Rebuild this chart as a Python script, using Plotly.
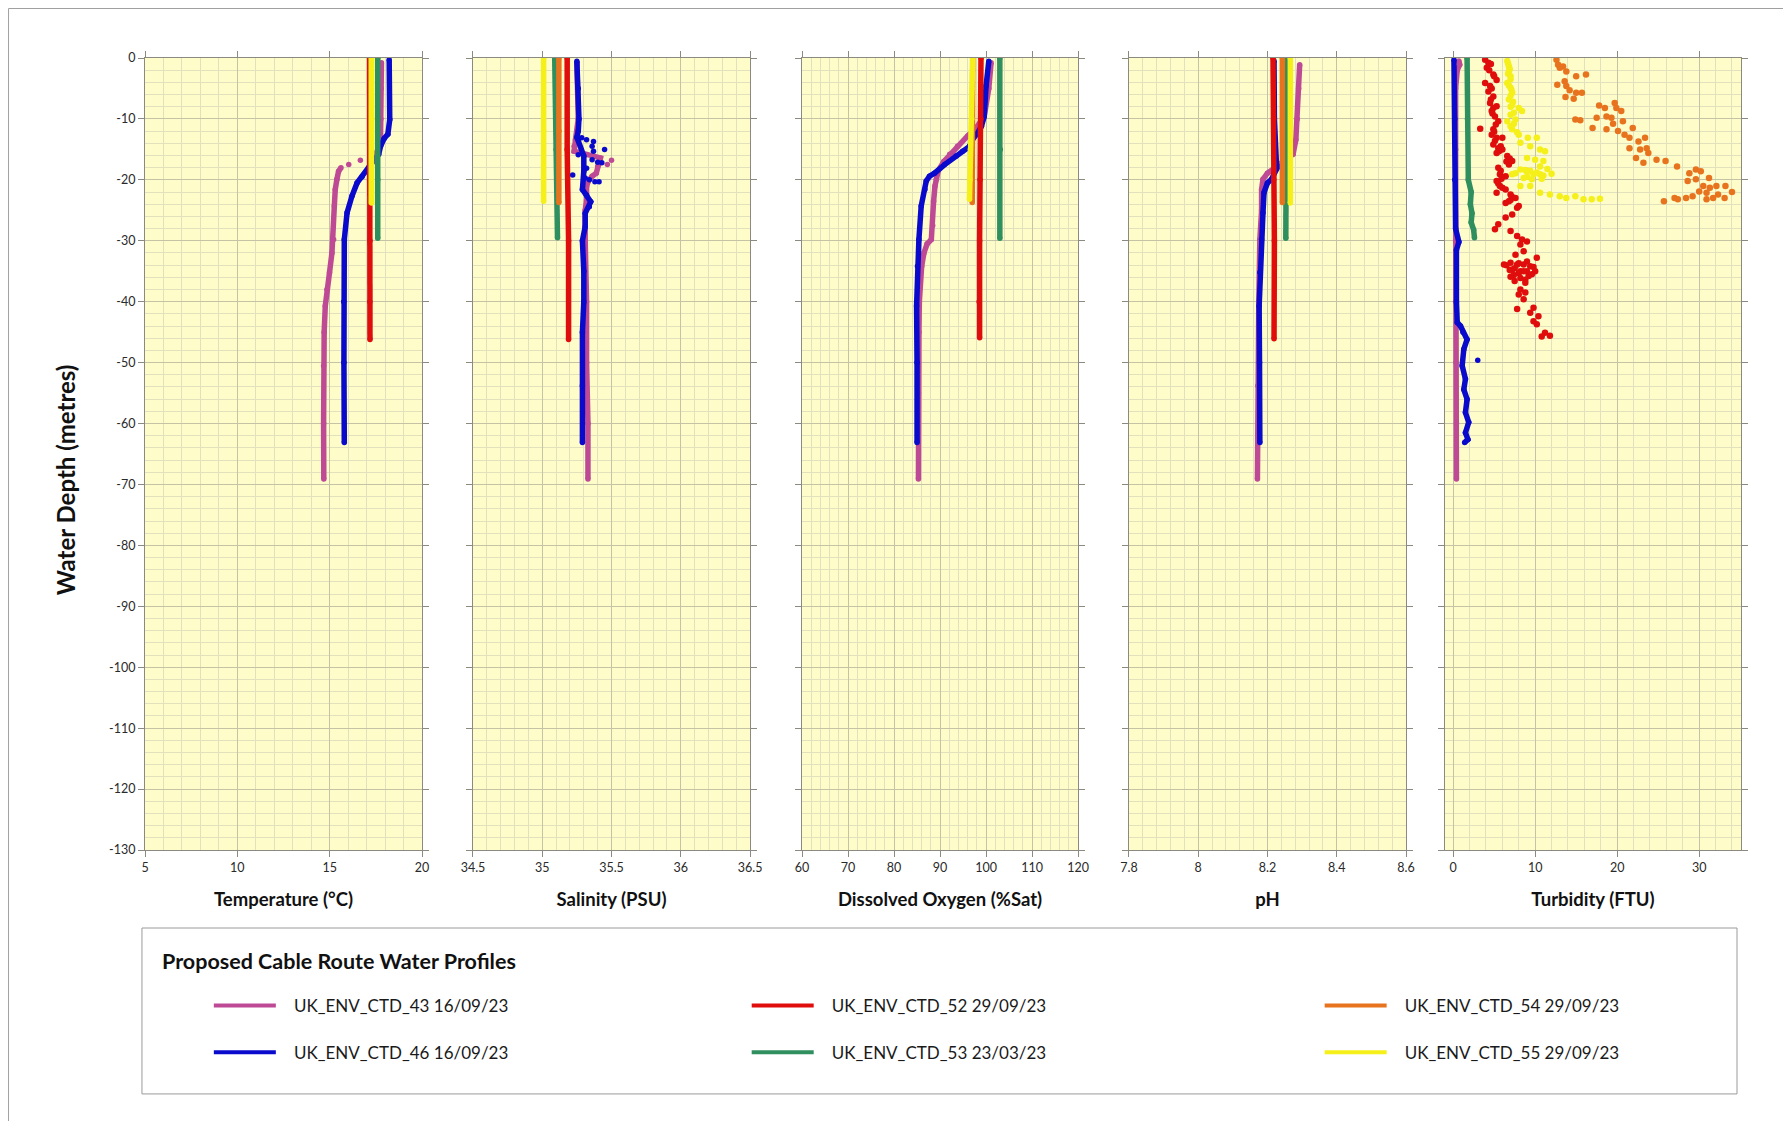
import plotly.graph_objects as go

# ---------------- data ----------------
STATION_LABELS = ["UK_ENV_CTD_43 16/09/23", "UK_ENV_CTD_46 16/09/23",
                  "UK_ENV_CTD_52 29/09/23", "UK_ENV_CTD_53 23/03/23",
                  "UK_ENV_CTD_54 29/09/23", "UK_ENV_CTD_55 29/09/23"]
PANEL_TITLES = ["Temperature (°C)", "Salinity (PSU)", "Dissolved Oxygen (%Sat)", "pH", "Turbidity (FTU)"]
LEGEND_TITLE = "Proposed Cable Route Water Profiles"
Y_TITLE = "Water Depth (metres)"

DEPTH_TICKS = [0, -10, -20, -30, -40, -50, -60, -70, -80, -90, -100, -110, -120, -130]
DEPTH_TICK_LABELS = ["0", "-10", "-20", "-30", "-40", "-50", "-60", "-70", "-80", "-90",
                     "-100", "-110", "-120", "-130"]

# (depth m, value) pairs; None breaks the profile line
TEMP_43 = [(-0.8, 17.80), (-5, 17.79), (-10, 17.77), (-13.4, 17.75), (-15.0, 17.6), (-15.8, 17.5),
           (-16.3, None), (-16.8, 16.66), (-17.2, None), (-17.5, 16.03), (-17.8, None),
           (-18.0, 15.61), (-18.6, 15.48), (-19.9, 15.39), (-21.6, 15.30), (-24.3, 15.25),
           (-29.8, 15.21), (-32.0, 15.12), (-35.2, 14.99), (-38.0, 14.85), (-40.7, 14.76),
           (-45.0, 14.70), (-50.5, 14.67), (-60.0, 14.67), (-69.1, 14.68)]
TEMP_46 = [(-0.3, 18.22), (-10.1, 18.25), (-12.5, 18.15), (-13.2, 17.95), (-14.5, 17.75),
           (-15.8, 17.65), (-16.5, 17.47), (-18.0, 17.10), (-18.6, 17.0), (-19.5, 16.75),
           (-20.5, 16.48), (-22.7, 16.2), (-25.4, 15.94), (-29.8, 15.79), (-40, 15.76),
           (-50, 15.77), (-63.1, 15.79)]
TEMP_52 = [(0, 17.16), (-10, 17.17), (-20, 17.16), (-30, 17.18), (-40, 17.17), (-46.2, 17.18)]
TEMP_53 = [(0, 17.60), (-10, 17.61), (-20, 17.60), (-29.6, 17.60)]
TEMP_54 = [(0, 17.22), (-23.7, 17.22)]
TEMP_55 = [(0, 17.27), (-10, 17.28), (-23.8, 17.27)]

SAL_43 = [(-0.8, 35.25), (-10, 35.26), (-13.4, 35.24), (-14.5, 35.23), (-15.3, 35.23), (-16.4, 35.42),
          (-17.8, 35.40), (-18.9, 35.39), (-19.4, 35.36), (-20.3, 35.33), (-21.1, 35.32),
          (-23.3, 35.32), (-25.0, 35.31), (-30, 35.31), (-40, 35.32), (-50, 35.32), (-60, 35.33),
          (-69.1, 35.33)]
SAL_43_SCATTER = [(-16.8, 35.50), (-17.5, 35.47)]
SAL_46 = [(-0.55, 35.25), (-5, 35.26), (-10, 35.265), (-12.0, 35.26), (-13.0, 35.25), (-16.1, 35.30),
          (-18.6, 35.30), (-21.6, 35.29), (-23.6, 35.35), (-25.5, 35.31), (-27.7, 35.31),
          (-30, 35.29), (-35, 35.30), (-40, 35.30), (-45, 35.29), (-53.8, 35.29), (-63.1, 35.29)]
SAL_46_SCATTER = [(-13.1, 35.285), (-13.4, 35.32), (-13.7, 35.37), (-14.5, 35.36), (-15.3, 35.37),
                  (-15.0, 35.45), (-15.9, 35.26), (-16.7, 35.36), (-17.1, 35.40), (-17.2, 35.43),
                  (-18.1, 35.32), (-19.2, 35.22), (-19.7, 35.31), (-20.0, 35.34), (-20.3, 35.38),
                  (-20.3, 35.41), (-22.5, 35.32), (-24.4, 35.34)]
SAL_52 = [(0, 35.18), (-15, 35.18), (-30, 35.19), (-46.2, 35.19)]
SAL_53 = [(0, 35.09), (-15, 35.10), (-29.5, 35.11)]
SAL_54 = [(0, 35.12), (-12, 35.12), (-23.7, 35.12)]
SAL_55 = [(0, 35.01), (-12, 35.01), (-23.5, 35.01)]

DO_43 = [(-0.8, 101.1), (-5, 100.6), (-9.6, 99.6), (-11.5, 97.8), (-12.8, 96.0), (-14.5, 93.8),
         (-15.8, 92.1), (-17.0, 90.8), (-18.5, 89.6), (-19.9, 89.2), (-21.0, 88.9), (-23.5, 88.6),
         (-27.5, 88.4), (-29.8, 88.1), (-30.5, 87.2), (-32.0, 86.5), (-34.2, 86.0), (-36.4, 85.7),
         (-40.0, 85.5), (-45.0, 85.4), (-55, 85.3), (-69.1, 85.3)]
DO_46 = [(-0.55, 100.6), (-4.6, 100.0), (-9.6, 99.6), (-11.2, 99.0), (-12.3, 98.2), (-13.2, 97.2),
         (-14.5, 96.4), (-15.3, 94.9), (-16.1, 93.5), (-17.5, 91.0), (-18.9, 88.8), (-19.4, 87.7),
         (-20.2, 87.0), (-21.6, 86.7), (-24.3, 85.9), (-29.8, 85.4), (-34.2, 85.1), (-40.7, 84.9),
         (-50, 85.0), (-63.1, 85.0)]
DO_52 = [(0, 98.9), (-10, 98.9), (-20, 98.7), (-30, 98.6), (-40, 98.5), (-45.9, 98.6)]
DO_53 = [(0, 103.0), (-15, 103.1), (-29.6, 103.0)]
DO_54 = [(0, 97.1), (-23.7, 97.0)]
DO_55 = [(0, 97.1), (-5, 96.9), (-10, 96.9), (-15, 96.6), (-20, 96.5), (-23.2, 96.4)]

PH_43 = [(-1.1, 8.293), (-5, 8.290), (-10, 8.286), (-13.4, 8.282), (-15.8, 8.274), (-17.0, 8.245),
         (-17.8, 8.226), (-18.9, 8.200), (-19.9, 8.187), (-21.6, 8.183), (-25, 8.183),
         (-29.8, 8.178), (-40, 8.175), (-53.8, 8.172), (-69.1, 8.171)]
PH_46 = [(-0.5, 8.219), (-10, 8.220), (-17.5, 8.226), (-17.8, 8.231), (-18.9, 8.220), (-19.9, 8.212),
         (-20.5, 8.200), (-22.1, 8.190), (-25.4, 8.187), (-29.8, 8.183), (-35.2, 8.178),
         (-40.7, 8.176), (-50, 8.177), (-63.1, 8.178)]
PH_52 = [(0, 8.216), (-10, 8.218), (-20, 8.218), (-30, 8.220), (-46.1, 8.219)]
PH_53 = [(0, 8.255), (-15, 8.255), (-29.6, 8.253)]
PH_54 = [(0, 8.243), (-23.7, 8.243)]
PH_55 = [(0, 8.266), (-23.8, 8.266)]

TURB_43 = [(-0.5, 0.7), (-1.1, 0.8), (-2, 0.5), (-5, 0.3), (-15, 0.3), (-30, 0.3), (-40, 0.3),
           (-50, 0.35), (-60, 0.4), (-69.1, 0.4)]
TURB_46 = [(-0.3, 0.1), (-10, 0.2), (-20, 0.2), (-28, 0.3), (-30.2, 0.7), (-31.5, 0.4), (-40, 0.4),
           (-43.4, 0.5), (-44.0, 0.9), (-45.0, 1.2), (-46.2, 1.7), (-47.8, 1.3), (-50.5, 1.1),
           (-52.7, 1.5), (-54.4, 1.3), (-56.0, 1.7), (-58.2, 1.5), (-59.8, 1.9), (-61.5, 1.5),
           (-62.6, 1.8), (-63.1, 1.4)]
TURB_46_SCATTER = [(-49.6, 3.0)]
TURB_53 = [(0, 1.7), (-10, 1.75), (-20, 1.85), (-22.0, 2.2), (-24, 2.1), (-25.5, 2.3), (-27, 2.2),
           (-28.2, 2.5), (-29.5, 2.6)]
TURB_52 = [(-0.3, 3.9), (-0.8, 4.3), (-1.0, 4.6), (-1.6, 4.1), (-2.0, 4.4), (-2.7, 4.9), (-3.0, 5.0),
           (-3.6, 5.3), (-4.1, 3.9), (-4.6, 4.5), (-5.0, 4.7), (-5.5, 4.3), (-6.3, 4.9), (-6.8, 4.6),
           (-7.4, 4.5), (-7.9, 5.3), (-8.2, 4.9), (-8.7, 4.7), (-9.1, 4.8), (-9.6, 5.1), (-10.4, 5.5),
           (-10.9, 5.2), (-11.6, 3.3), (-11.7, 4.9), (-12.1, 5.0), (-12.6, 4.7), (-13.1, 5.3),
           (-13.1, 6.0), (-13.6, 5.1), (-14.2, 4.9), (-14.5, 5.8), (-14.8, 5.5), (-15.0, 6.0),
           (-15.3, 5.6), (-15.6, 5.3), (-16.1, 6.6), (-16.5, 6.9), (-16.9, 7.2), (-17.0, 6.5),
           (-17.5, 6.8), (-18.0, 5.5), (-18.5, 5.8), (-19.1, 5.7), (-19.4, 6.4), (-19.8, 5.9),
           (-20.2, 5.3), (-20.6, 5.5), (-21.0, 5.7), (-21.3, 6.0), (-21.6, 6.4), (-22.1, 5.3),
           (-22.4, 7.0), (-22.8, 7.2), (-23.0, 7.6), (-23.3, 7.0), (-23.5, 6.8), (-23.8, 6.4),
           (-24.3, 8.0), (-24.6, 7.8), (-25.7, 7.2), (-26.2, 6.4), (-27.3, 5.5), (-28.1, 5.1),
           (-28.4, 7.0), (-29.2, 7.8), (-29.8, 8.4), (-30.1, 9.0), (-30.6, 8.2), (-31.7, 8.6),
           (-32.3, 7.6), (-32.8, 10.2), (-33.4, 9.0), (-33.6, 7.0), (-33.7, 8.0), (-33.9, 6.2),
           (-33.9, 7.8), (-33.9, 8.6), (-34.0, 6.5), (-34.2, 9.4), (-34.3, 9.8), (-34.5, 7.5),
           (-34.7, 7.2), (-34.8, 6.9), (-35.0, 8.2), (-35.0, 9.0), (-35.0, 10.0), (-35.0, 8.6),
           (-35.3, 8.0), (-35.5, 9.6), (-35.6, 7.4), (-35.8, 9.2), (-35.9, 7.0), (-36.1, 8.2),
           (-36.4, 8.8), (-36.6, 7.5), (-36.9, 8.8), (-38.0, 8.2), (-38.5, 8.8), (-38.8, 8.0),
           (-39.6, 8.6), (-41.0, 9.8), (-41.2, 7.8), (-41.8, 9.4), (-42.4, 10.4), (-43.2, 9.8),
           (-43.7, 10.2), (-45.1, 11.2), (-45.6, 11.8), (-45.7, 10.8)]
TURB_54 = [(-0.3, 12.6), (-1.1, 12.8), (-1.4, 13.4), (-1.6, 13.0), (-2.2, 13.8), (-3.0, 15.0),
           (-2.7, 16.2), (-4.4, 12.7), (-3.8, 13.6), (-4.6, 13.8), (-5.3, 14.2), (-5.7, 15.0),
           (-5.7, 15.7), (-6.7, 14.7), (-6.4, 13.7), (-7.8, 17.8), (-8.2, 18.5), (-7.4, 19.7),
           (-8.2, 19.9), (-8.7, 20.5), (-9.6, 18.7), (-9.8, 19.3), (-9.8, 17.5), (-10.1, 14.9),
           (-10.2, 15.5), (-11.5, 17.0), (-11.7, 18.7), (-10.8, 19.5), (-10.4, 20.7), (-12.0, 20.1),
           (-12.6, 20.9), (-11.5, 21.9), (-13.1, 21.5), (-13.7, 22.6), (-13.1, 23.4), (-14.8, 21.5),
           (-15.0, 22.8), (-14.8, 23.6), (-16.4, 22.3), (-17.2, 23.2), (-15.6, 23.8), (-16.7, 24.8),
           (-16.9, 25.9), (-17.8, 27.3), (-18.9, 28.8), (-18.3, 29.6), (-18.6, 30.2), (-20.2, 28.6),
           (-19.9, 29.6), (-19.7, 31.2), (-21.0, 30.5), (-21.3, 31.3), (-21.0, 32.1), (-21.0, 33.2),
           (-22.0, 34.0), (-22.1, 30.9), (-22.4, 32.3), (-23.0, 33.1), (-23.0, 31.7), (-22.7, 29.2),
           (-23.0, 28.4), (-23.2, 27.4), (-23.0, 27.0), (-23.5, 25.7), (-21.9, 30.0), (-23.2, 30.9)]
TURB_55 = [(-0.5, 6.6), (-0.9, 6.7), (-1.4, 6.8), (-1.8, 6.9), (-2.2, 6.8), (-2.6, 6.7), (-3.0, 7.0),
           (-3.5, 7.0), (-4.1, 6.6), (-4.5, 6.8), (-4.9, 7.0), (-5.2, 7.1), (-5.7, 7.2), (-6.2, 7.0),
           (-6.8, 6.8), (-7.2, 7.3), (-7.7, 7.2), (-8.0, 7.0), (-8.2, 8.0), (-8.7, 8.4), (-9.0, 7.4),
           (-9.3, 7.0), (-10.1, 7.6), (-10.4, 6.6), (-10.8, 7.4), (-11.2, 7.0), (-11.7, 7.2),
           (-12.2, 7.8), (-12.6, 8.0), (-13.1, 9.1), (-13.1, 10.2), (-13.9, 8.2), (-14.5, 9.4),
           (-15.0, 10.6), (-15.3, 11.2), (-16.4, 9.0), (-16.7, 10.0), (-16.9, 11.0), (-17.8, 10.6),
           (-18.2, 11.5), (-18.3, 8.2), (-18.4, 8.8), (-18.5, 9.4), (-18.7, 9.0), (-18.8, 10.2),
           (-18.9, 7.6), (-19.0, 12.0), (-19.1, 7.2), (-19.1, 9.8), (-19.1, 10.6), (-19.3, 11.0),
           (-19.5, 9.0), (-19.7, 8.6), (-19.8, 10.8), (-19.9, 9.6), (-21.0, 8.2), (-21.0, 9.4),
           (-22.1, 10.6), (-22.4, 11.8), (-22.7, 13.0), (-23.0, 13.8), (-22.7, 14.9), (-23.2, 15.9),
           (-23.2, 16.9), (-23.1, 17.9)]

# ---------------- styling ----------------
COLOURS = ["#BE4A96", "#0A0ACD", "#E00D0D", "#2F8F5E", "#E8731F", "#F5F01A"]
FONT = "Lato, 'Noto Sans', sans-serif"
PLOT_BG = "#FEFDC9"
MAJOR_GRID = "#C4C3A6"
MINOR_GRID = "#E2E1BE"

X_RANGES = [(5, 20), (34.5, 36.5), (60, 120), (7.8, 8.6), (-1, 35.1)]
X_DTICK = [5, 0.5, 10, 0.2, 10]
X_MINOR = [1, 0.1, 2, 0.04, 2]
X_TICK0 = [5, 34.5, 60, 7.8, 0]
DOMAINS = [(0.0, 0.1736), (0.2055, 0.3791), (0.4117, 0.5846), (0.6165, 0.7901), (0.8145, 1.0)]

PANELS = [
    [TEMP_43, TEMP_46, TEMP_52, TEMP_53, TEMP_54, TEMP_55],
    [SAL_43, SAL_46, SAL_52, SAL_53, SAL_54, SAL_55],
    [DO_43, DO_46, DO_52, DO_53, DO_54, DO_55],
    [PH_43, PH_46, PH_52, PH_53, PH_54, PH_55],
    [TURB_43, TURB_46, TURB_52, TURB_53, TURB_54, TURB_55],
]
# extra scattered readings: (panel, station, points)
SCATTER_EXTRA = [(1, 0, SAL_43_SCATTER), (1, 1, SAL_46_SCATTER), (4, 1, TURB_46_SCATTER)]
SCATTER_ONLY = {(4, 2), (4, 4), (4, 5)}

fig = go.Figure()

for p, series in enumerate(PANELS):
    ax = "" if p == 0 else str(p + 1)
    for s, pts in enumerate(series):
        depth = [d for d, v in pts]
        vals = [v for d, v in pts]
        if (p, s) in SCATTER_ONLY:
            fig.add_trace(go.Scatter(x=vals, y=depth, mode="markers", xaxis="x" + ax, yaxis="y" + ax,
                                     marker=dict(color=COLOURS[s], size=6.5), showlegend=False,
                                     name=STATION_LABELS[s]))
        else:
            fig.add_trace(go.Scatter(x=vals, y=depth, mode="lines+markers", xaxis="x" + ax, yaxis="y" + ax,
                                     line=dict(color=COLOURS[s], width=5.5),
                                     marker=dict(color=COLOURS[s], size=5.5),
                                     connectgaps=False, showlegend=False, name=STATION_LABELS[s]))
    for pp, s, pts in SCATTER_EXTRA:
        if pp != p:
            continue
        fig.add_trace(go.Scatter(x=[v for d, v in pts], y=[d for d, v in pts], mode="markers",
                                 xaxis="x" + ax, yaxis="y" + ax,
                                 marker=dict(color=COLOURS[s], size=5.5), showlegend=False,
                                 name=STATION_LABELS[s]))

# legend entries, one small legend per slot so the 3x2 grid lines up
LEGEND_XY = [(0.040, -0.197), (0.040, -0.256), (0.377, -0.197), (0.377, -0.256),
             (0.736, -0.197), (0.736, -0.256)]
GAP = "\u00a0\u00a0\u00a0"
for s, label in enumerate(STATION_LABELS):
    key = "legend" if s == 0 else f"legend{s + 1}"
    fig.add_trace(go.Scatter(x=[None], y=[None], mode="lines", name=GAP + label, legend=key,
                             line=dict(color=COLOURS[s], width=4), showlegend=True,
                             xaxis="x", yaxis="y"))
    fig.update_layout({key: dict(x=LEGEND_XY[s][0], y=LEGEND_XY[s][1], xanchor="left", yanchor="middle",
                                 bgcolor="rgba(0,0,0,0)", itemwidth=62,
                                 font=dict(family=FONT, size=17, color="#1a1a1a"))})

axis_common = dict(showline=True, linecolor="#8a8a80", linewidth=1, mirror="ticks",
                   ticks="outside", ticklen=6, tickcolor="#8a8a80",
                   showgrid=True, gridcolor=MAJOR_GRID, gridwidth=1, zeroline=False,
                   tickfont=dict(family=FONT, size=12.5, color="#2a2a2a"))

# the page body adds an 8 px offset, so the figure is 16 px smaller than the window
layout = dict(width=1775, height=1113, paper_bgcolor="white", plot_bgcolor=PLOT_BG,
              margin=dict(l=137, r=42, t=50, b=271), font=dict(family=FONT),
              showlegend=True)
for p in range(5):
    n = "" if p == 0 else str(p + 1)
    layout["xaxis" + n] = dict(axis_common, domain=DOMAINS[p], range=list(X_RANGES[p]),
                               tick0=X_TICK0[p], dtick=X_DTICK[p], anchor="y" + n,
                               minor=dict(dtick=X_MINOR[p], tick0=X_TICK0[p], showgrid=True,
                                          gridcolor=MINOR_GRID, ticks=""),
                               title=dict(text=f"<b>{PANEL_TITLES[p]}</b>", standoff=19,
                                          font=dict(family=FONT, size=18.5, color="#111111")))
    layout["yaxis" + n] = dict(axis_common, range=[-130, 0], tickvals=DEPTH_TICKS,
                               ticktext=DEPTH_TICK_LABELS, showticklabels=(p == 0),
                               anchor="x" + n,
                               minor=dict(dtick=2, tick0=0, showgrid=True, gridcolor=MINOR_GRID, ticks=""))
    if p > 0:
        layout["yaxis" + n]["matches"] = "y"
fig.update_layout(layout)

fig.add_annotation(text=f"<b>{Y_TITLE}</b>", xref="paper", yref="paper", x=-0.0501, y=0.467,
                   xanchor="center", yanchor="middle",
                   textangle=-90, showarrow=False, font=dict(family=FONT, size=24, color="#111111"))
fig.add_annotation(text=f"<b>{LEGEND_TITLE}</b>", xref="paper", yref="paper", x=0.0094, y=-0.140,
                   xanchor="left", yanchor="middle", showarrow=False,
                   font=dict(family=FONT, size=21.5, color="#111111"))
# legend frame
fig.add_shape(type="rect", xref="paper", yref="paper", x0=-0.0019, x1=0.9975, y0=-0.308, y1=-0.0985,
              line=dict(color="#9a9a9a", width=1), fillcolor="rgba(0,0,0,0)", layer="below")
# outer page frame (top and left edges)
fig.add_shape(type="line", xref="paper", yref="paper", x0=-0.0855, x1=1.04, y0=1.0625, y1=1.0625,
              line=dict(color="#a0a0a0", width=1))
fig.add_shape(type="line", xref="paper", yref="paper", x0=-0.0855, x1=-0.0855, y0=1.0625, y1=-0.36,
              line=dict(color="#a0a0a0", width=1))

fig.write_html("out.html")
